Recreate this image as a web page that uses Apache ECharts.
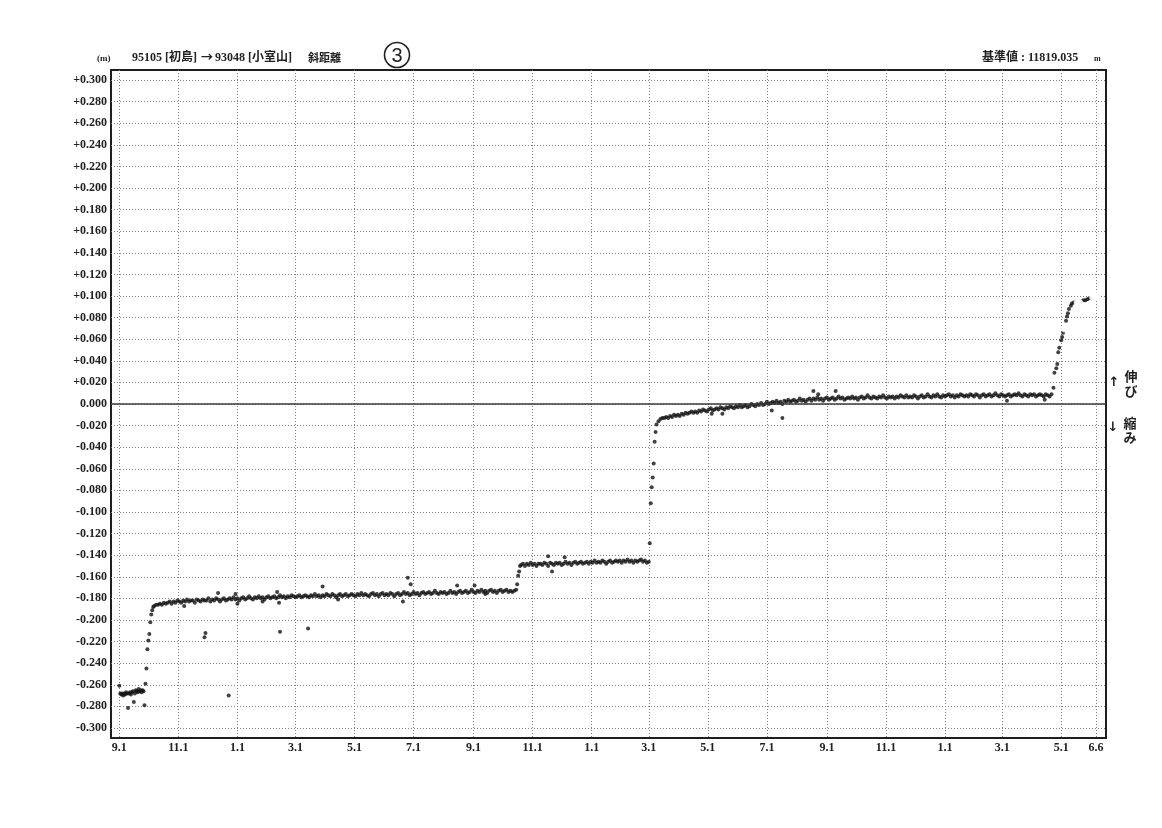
<!DOCTYPE html>
<html><head><meta charset="utf-8">
<script src="https://cdn.jsdelivr.net/npm/echarts@6/dist/echarts.min.js"></script>
<style>html,body{margin:0;padding:0;background:#fff}#c{width:1162px;height:828px}</style>
</head><body><div id="c"></div>
<script>
// ---------- tick labels ----------
const xTickDates = ['1995-09-01','1995-11-01','1996-01-01','1996-03-01','1996-05-01','1996-07-01','1996-09-01','1996-11-01',
  '1997-01-01','1997-03-01','1997-05-01','1997-07-01','1997-09-01','1997-11-01','1998-01-01','1998-03-01','1998-05-01','1998-06-06'];
const xTickLabels = ['9.1','11.1','1.1','3.1','5.1','7.1','9.1','11.1','1.1','3.1','5.1','7.1','9.1','11.1','1.1','3.1','5.1','6.6'];
const yTickValues = [-0.30,-0.28,-0.26,-0.24,-0.22,-0.20,-0.18,-0.16,-0.14,-0.12,-0.10,-0.08,-0.06,-0.04,-0.02,0.00,
  0.02,0.04,0.06,0.08,0.10,0.12,0.14,0.16,0.18,0.20,0.22,0.24,0.26,0.28,0.30];

// ---------- data (slope distance change, m) ----------
// daily from 1995-09-01
const preEvent = [-0.261,-0.268,-0.269,-0.268,-0.270,-0.268,-0.269,-0.267,-0.268,-0.2815,-0.268,-0.267,-0.269,-0.267,
  -0.266,-0.276,-0.268,-0.265,-0.266,-0.267,-0.264,-0.266,-0.265,-0.267,-0.265,-0.266,-0.279];
// daily from 1995-09-28
const jump1995 = [-0.259,-0.245,-0.227,-0.219,-0.213,-0.202,-0.195,-0.191,-0.188];
// every 2 days from 1995-10-07
const level1996 = [
  -0.187,-0.186,-0.186,-0.185,-0.186,-0.184,-0.185,-0.184,-0.183,-0.185,
  -0.183,-0.184,-0.182,-0.183,-0.184,-0.182,-0.183,-0.181,-0.183,-0.182,
  -0.182,-0.184,-0.181,-0.182,-0.183,-0.181,-0.182,-0.182,-0.180,-0.183,
  -0.181,-0.182,-0.180,-0.181,-0.183,-0.181,-0.180,-0.182,-0.181,-0.180,
  -0.181,-0.179,-0.181,-0.180,-0.182,-0.180,-0.179,-0.181,-0.180,-0.178,
  -0.180,-0.181,-0.179,-0.180,-0.178,-0.180,-0.179,-0.181,-0.179,-0.178,
  -0.180,-0.179,-0.178,-0.180,-0.179,-0.177,-0.179,-0.178,-0.180,-0.178,
  -0.179,-0.177,-0.178,-0.179,-0.178,-0.177,-0.179,-0.178,-0.177,-0.178,
  -0.179,-0.177,-0.178,-0.176,-0.178,-0.177,-0.179,-0.177,-0.178,-0.176,
  -0.177,-0.178,-0.176,-0.177,-0.179,-0.177,-0.176,-0.178,-0.177,-0.176,
  -0.178,-0.177,-0.176,-0.177,-0.178,-0.176,-0.177,-0.175,-0.177,-0.176,
  -0.177,-0.178,-0.176,-0.175,-0.177,-0.176,-0.178,-0.176,-0.175,-0.177,
  -0.176,-0.177,-0.175,-0.176,-0.178,-0.176,-0.175,-0.177,-0.176,-0.174,
  -0.176,-0.175,-0.177,-0.176,-0.174,-0.176,-0.175,-0.177,-0.175,-0.174,
  -0.176,-0.175,-0.174,-0.176,-0.175,-0.173,-0.175,-0.176,-0.174,-0.175,
  -0.174,-0.176,-0.175,-0.173,-0.175,-0.174,-0.176,-0.174,-0.173,-0.175,
  -0.174,-0.173,-0.175,-0.174,-0.172,-0.174,-0.175,-0.173,-0.174,-0.172,
  -0.174,-0.173,-0.175,-0.173,-0.172,-0.174,-0.173,-0.175,-0.173,-0.172,
  -0.174,-0.173,-0.172,-0.174,-0.173,-0.174,-0.173,-0.172];
// daily from 1996-10-16
const jump1996 = [-0.167,-0.159,-0.155,-0.150];
// every 2 days from 1996-10-20
const level1997a = [
  -0.149,-0.148,-0.150,-0.148,-0.149,-0.147,-0.149,-0.148,-0.150,-0.148,
  -0.148,-0.149,-0.147,-0.148,-0.150,-0.147,-0.148,-0.149,-0.147,-0.148,
  -0.147,-0.149,-0.148,-0.146,-0.148,-0.147,-0.149,-0.147,-0.146,-0.148,
  -0.147,-0.146,-0.148,-0.147,-0.146,-0.148,-0.146,-0.147,-0.145,-0.147,
  -0.146,-0.147,-0.145,-0.146,-0.148,-0.146,-0.145,-0.147,-0.146,-0.145,
  -0.146,-0.145,-0.147,-0.145,-0.146,-0.144,-0.146,-0.145,-0.147,-0.145,
  -0.146,-0.145,-0.144,-0.146,-0.145,-0.147,-0.146];
// daily from 1997-03-02
const jump1997 = [-0.129,-0.092,-0.077,-0.068,-0.055,-0.035,-0.026,-0.019];
// every 2 days from 1997-03-11
const level1998 = [
  -0.016,-0.014,-0.013,-0.013,-0.012,-0.013,-0.011,-0.012,-0.010,-0.011,
  -0.010,-0.011,-0.009,-0.010,-0.008,-0.009,-0.008,-0.007,-0.008,-0.007,
  -0.008,-0.006,-0.007,-0.005,-0.006,-0.007,-0.005,-0.004,-0.006,-0.005,
  -0.004,-0.005,-0.003,-0.004,-0.005,-0.003,-0.004,-0.002,-0.003,-0.004,
  -0.002,-0.003,-0.001,-0.003,-0.002,-0.001,-0.003,-0.002,0.000,-0.001,
  -0.002,0.000,-0.001,0.001,-0.001,0.000,0.002,0.000,0.001,0.002,
  0.001,0.003,0.001,0.002,0.000,0.003,0.002,0.004,0.002,0.003,
  0.004,0.002,0.003,0.005,0.003,0.004,0.002,0.004,0.005,0.003,
  0.005,0.004,0.006,0.004,0.005,0.003,0.005,0.006,0.004,0.005,
  0.006,0.004,0.005,0.007,0.005,0.006,0.004,0.005,0.006,0.005,
  0.007,0.005,0.006,0.004,0.006,0.007,0.005,0.006,0.008,0.006,
  0.005,0.007,0.006,0.005,0.007,0.006,0.008,0.006,0.005,0.007,
  0.006,0.007,0.005,0.007,0.006,0.008,0.007,0.006,0.008,0.006,
  0.007,0.006,0.008,0.007,0.005,0.007,0.008,0.006,0.007,0.009,
  0.007,0.006,0.008,0.007,0.009,0.007,0.006,0.008,0.007,0.008,
  0.009,0.007,0.008,0.006,0.008,0.007,0.009,0.008,0.007,0.008,
  0.007,0.009,0.008,0.007,0.009,0.008,0.006,0.008,0.009,0.007,
  0.008,0.009,0.007,0.008,0.010,0.008,0.007,0.009,0.008,0.007,
  0.008,0.009,0.007,0.008,0.009,0.008,0.010,0.008,0.007,0.009,
  0.008,0.007,0.009,0.008,0.009,0.007,0.008,0.009,0.008,0.007,
  0.009,0.008,0.007,0.009];
// 1998 event (dated points)
const jump1998 = [
  ['1998-04-23',0.015],['1998-04-24',0.029],['1998-04-26',0.033],['1998-04-27',0.037],['1998-04-28',0.048],
  ['1998-04-29',0.052],['1998-05-01',0.059],['1998-05-02',0.062],['1998-05-03',0.066],['1998-05-06',0.077],
  ['1998-05-07',0.081],['1998-05-08',0.084],['1998-05-09',0.088],['1998-05-11',0.091],['1998-05-12',0.093],
  ['1998-05-14',0.094],['1998-05-16',0.095],['1998-05-22',0.095],['1998-05-24',0.096],['1998-05-26',0.096],
  ['1998-05-28',0.097],['1998-05-30',0.098],['1998-06-01',0.098]];
// preliminary solutions (open circles)
const preliminary = [['1998-05-05',0.070],['1998-05-18',0.094],['1998-05-20',0.093],['1998-06-03',0.099],
  ['1998-06-05',0.100],['1998-06-06',0.100]];
// isolated outliers
const outliers = [
  ['1995-11-07',-0.187],['1995-11-28',-0.216],['1995-11-29',-0.212],['1995-12-12',-0.175],['1995-12-23',-0.270],
  ['1995-12-30',-0.176],['1996-01-01',-0.185],['1996-01-27',-0.183],['1996-02-11',-0.174],['1996-02-13',-0.184],
  ['1996-02-14',-0.211],['1996-03-14',-0.208],['1996-03-29',-0.169],['1996-04-14',-0.181],['1996-06-20',-0.183],
  ['1996-06-25',-0.161],['1996-06-28',-0.167],['1996-08-15',-0.168],['1996-09-02',-0.168],['1996-09-13',-0.176],
  ['1996-11-17',-0.141],['1996-11-21',-0.155],['1996-12-04',-0.142],
  ['1997-05-05',-0.009],['1997-05-16',-0.009],['1997-07-06',-0.006],['1997-07-17',-0.013],['1997-08-18',0.012],
  ['1997-08-23',0.009],['1997-09-10',0.012],['1998-03-06',0.003],['1998-04-14',0.004]];

const runs = [
  {start:'1995-09-01', step:1, values:preEvent},
  {start:'1995-09-28', step:1, values:jump1995},
  {start:'1995-10-07', step:2, values:level1996},
  {start:'1996-10-16', step:1, values:jump1996},
  {start:'1996-10-20', step:2, values:level1997a},
  {start:'1997-03-02', step:1, values:jump1997},
  {start:'1997-03-11', step:2, values:level1998}
];

const BASE = Date.UTC(1995, 8, 1);
function dayOf(s){ const p = s.split('-').map(Number); return (Date.UTC(p[0], p[1]-1, p[2]) - BASE) / 864e5; }

const solid = [];
runs.forEach(r => { const d0 = dayOf(r.start); r.values.forEach((v, i) => solid.push([d0 + i * r.step, v])); });
jump1998.forEach(p => solid.push([dayOf(p[0]), p[1]]));
outliers.forEach(p => solid.push([dayOf(p[0]), p[1]]));
const open = preliminary.map(p => [dayOf(p[0]), p[1]]);
const tickDays = xTickDates.map(dayOf);

const chart = echarts.init(document.getElementById('c'), null, {renderer:'canvas'});
const numFont = 'Liberation Serif';
const cjk = '"Noto Sans CJK JP"';
chart.setOption({
  backgroundColor:'#ffffff',
  animation:false,
  grid:{left:111, right:56, top:70, bottom:90, show:true, borderColor:'#1e1e1e', borderWidth:2, backgroundColor:'transparent'},
  xAxis:{
    type:'value', min:-8.6, max:1019.3,
    axisLine:{show:false},
    axisTick:{show:false, customValues:tickDays},
    axisLabel:{customValues:tickDays, margin:4, color:'#222', fontSize:12, fontWeight:'bold', fontFamily:numFont,
      formatter:v => { const i = tickDays.findIndex(t => Math.abs(t - v) < 0.5); return i >= 0 ? xTickLabels[i] : ''; }},
    splitLine:{show:true, lineStyle:{color:'#808080', width:1, type:[1,2]}}
  },
  yAxis:{
    type:'value', min:-0.3093, max:0.3093,
    axisLine:{show:false},
    axisTick:{show:false, customValues:yTickValues},
    axisLabel:{customValues:yTickValues, margin:4, color:'#222', fontSize:12, fontWeight:'bold', fontFamily:numFont,
      formatter:v => { if (Math.abs(v) < 1e-9) return '0.000'; return (v > 0 ? '+' : '') + v.toFixed(3); }},
    splitLine:{show:true, lineStyle:{color:'#808080', width:1, type:[1,2]}}
  },
  series:[
    {type:'scatter', data:solid, symbol:'circle', symbolSize:4, itemStyle:{color:'#111'}, silent:true,
      markLine:{silent:true, symbol:'none', label:{show:false}, animation:false,
        lineStyle:{color:'#3a3a3a', width:1.5, type:'solid'}, data:[{yAxis:0}]}},
    {type:'scatter', data:open, symbol:'emptyCircle', symbolSize:6, itemStyle:{color:'#fff', borderColor:'#222', borderWidth:1}, silent:true}
  ],
  graphic:[
    {type:'text', left:97, top:54, style:{text:'(m)', font:'bold 9px Liberation Serif', fill:'#222'}},
    {type:'text', left:132, top:52, style:{text:'95105 [初島]', font:'bold 12px "Liberation Serif", ' + cjk, fill:'#222'}},
    {type:'text', left:201, top:51, style:{text:'→', font:'bold 12px ' + cjk, fill:'#222'}},
    {type:'text', left:215, top:52, style:{text:'93048 [小室山]', font:'bold 12px "Liberation Serif", ' + cjk, fill:'#222'}},
    {type:'text', left:308, top:52, style:{text:'斜距離', font:'bold 11px ' + cjk, fill:'#222'}},
    {type:'circle', shape:{cx:397, cy:55, r:12.5}, style:{fill:'none', stroke:'#222', lineWidth:1.6}},
    {type:'text', x:397, y:56, style:{text:'3', font:'20px "Liberation Sans"', fill:'#222', align:'center', verticalAlign:'middle'}},
    {type:'text', left:982, top:52, style:{text:'基準値 : 11819.035', font:'bold 12px "Liberation Serif", ' + cjk, fill:'#222'}},
    {type:'text', left:1094, top:55, style:{text:'m', font:'bold 8px Liberation Serif', fill:'#222'}},
    {type:'text', x:1114, y:383, style:{text:'↑', font:'bold 13px "DejaVu Sans"', fill:'#222', align:'center', verticalAlign:'middle'}},
    {type:'text', x:1131, y:376, style:{text:'伸', font:'bold 13px ' + cjk, fill:'#222', align:'center', verticalAlign:'middle'}},
    {type:'text', x:1131, y:391, style:{text:'び', font:'bold 13px ' + cjk, fill:'#222', align:'center', verticalAlign:'middle'}},
    {type:'text', x:1113, y:428, style:{text:'↓', font:'bold 13px "DejaVu Sans"', fill:'#222', align:'center', verticalAlign:'middle'}},
    {type:'text', x:1130, y:423, style:{text:'縮', font:'bold 13px ' + cjk, fill:'#222', align:'center', verticalAlign:'middle'}},
    {type:'text', x:1130, y:437, style:{text:'み', font:'bold 13px ' + cjk, fill:'#222', align:'center', verticalAlign:'middle'}}
  ]
});
</script></body></html>
